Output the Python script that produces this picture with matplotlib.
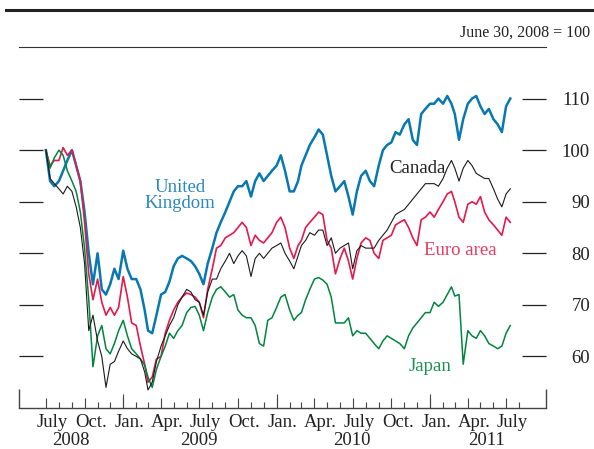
import datetime as dt
import matplotlib
matplotlib.use("Agg")
import matplotlib.pyplot as plt
import matplotlib.dates as mdates
from matplotlib.lines import Line2D

plt.rcParams['font.family'] = ['Liberation Serif', 'DejaVu Serif']

# sample dates: 1st, 11th and 21st of each month, July 2008 to July 11, 2011
months = [dt.date(2008 + (6 + i) // 12, (6 + i) % 12 + 1, 1) for i in range(37)]
dates = [m.replace(day=d) for m in months for d in (1, 11, 21)][:-1]

# index values, June 30, 2008 = 100
uk = [
    100, 94, 93,  94, 96, 98,  100, 97, 94,
    88, 80, 74,  80, 73, 72,  74, 77, 75,
    80.5, 77, 75,  75, 73, 69,  65, 64.5, 68,
    72, 72.5, 74.5,  77.5, 79, 79.5,  79, 78.5, 77.5,
    76, 74, 78,  81, 84, 86,  88, 90, 92,
    93, 93, 94,  91, 94, 95.5,  94, 95, 96,
    97, 99, 96,  92, 92, 94,  97, 99, 101,
    102.5, 104, 103,  99, 95, 92,  93, 94, 91,
    87.5, 92, 95,  96, 94, 93,  97, 100, 101,
    101.5, 103.5, 103,  105, 106, 102,  101, 107, 108,
    109, 109, 110,  109, 110.5, 109,  107, 102, 106,
    109, 110, 110.5,  108.5, 107, 108,  106, 105, 103.5,
    108.5, 110,
]
euro = [
    100, 97, 98,  98, 100.5, 99,  100, 97, 94,
    86, 76, 71,  75, 70.5, 68,  69.5, 68, 69.5,
    75.5, 71.5, 66.5,  66, 62, 58.5,  55, 56, 59.5,
    60, 64.5, 67,  69, 70.5, 71.5,  72.3, 72, 71.5,
    70.5, 67.5, 73,  77, 81, 81.5,  83, 83.5, 84,
    85, 86, 85,  81.5, 83.5, 82.5,  82, 83, 84,
    86, 87, 85,  81, 79, 81.5,  82.5, 85, 86,
    87, 88, 87.5,  82.5, 81, 76,  79, 81, 78.5,
    75, 79, 82,  83, 82.5, 80,  79, 82.5, 83,
    83.5, 85.5, 86,  86.5, 85, 83,  81.5, 86.5, 87,
    88, 87, 88.5,  90, 91.5, 92,  90, 87, 86,
    89.5, 90, 89.5,  91, 88, 86.5,  85.5, 84.5, 83.5,
    87, 86,
]
japan = [
    100, 96.5, 98.5,  100, 99, 96,  94, 92, 88,
    81, 71, 58,  64, 66, 61.5,  60.5, 62.5, 65,
    67, 64, 61.5,  60.5, 59.5, 58.3,  56, 54, 57.5,
    60, 62, 64.5,  63.5, 65, 66,  68.5, 69.5, 69.7,
    68, 65, 68.5,  71.5, 73, 73.5,  72.5, 71.5, 72,
    69, 68, 67.5,  67.5, 66, 62.5,  62, 67, 67.5,
    69.5, 71.5, 72,  69, 67, 68,  68.5, 71, 73,
    75, 75.3, 74.8,  74, 71.5, 66.5,  66.5, 66.5, 67.5,
    64, 65, 64.5,  64.5, 63.5, 62.5,  61.5, 63, 64,
    63.5, 63, 62.5,  61.5, 64, 65.5,  66.5, 67.5, 68.5,
    68.5, 70.5, 69.7,  70.5, 72, 73.5,  71.7, 72, 58.5,
    65, 64, 63.5,  65, 64, 62.5,  62, 61.5, 62,
    64.5, 66,
]
canada = [
    100, 94.5, 93.5,  92.5, 91.5, 93,  92, 89, 85,
    78, 65, 68,  63, 60, 54,  58.5, 59, 61,
    63, 61.5, 60.5,  60, 59.5, 57,  53.5, 55, 59,
    62, 64, 66,  67.5, 70, 71.5,  73, 72.5, 71,
    70.5, 68, 72.5,  75, 75, 77,  78.5, 80, 78,
    79.5, 80.5, 79.5,  75.5, 79, 80,  79, 80, 81,
    81.5, 82, 80,  78.5, 77, 79.5,  81.5, 82.5, 84,
    83.5, 84.5, 84.5,  81.5, 83, 80,  81, 81.5, 82,
    77, 80.5, 81.5,  81, 81, 81,  82.5, 83.5, 84.5,
    86, 87.5, 88,  88.5, 89.5, 90.5,  91.5, 92.5, 93.5,
    93.5, 93.5, 93,  94.5, 96.5, 98,  96.5, 94, 96.5,
    98, 97, 95.5,  95, 94.5, 94.5,  92.5, 90.5, 89,
    91.5, 92.5,
]

series = [
    (uk, "#0878b2", 1.8),
    (euro, "#e5194c", 1.2),
    (japan, "#00853f", 1.1),
    (canada, "#1a1a1a", 0.8),
]

y_ticks = [60, 70, 80, 90, 100, 110]
quarter_names = ["July", "Oct.", "Jan.", "Apr."]
year_labels = ["2008", "2009", "2010", "2011"]
year_label_dates = [dt.date(2008, 8, 29), dt.date(2009, 6, 29),
                    dt.date(2010, 6, 28), dt.date(2011, 5, 15)]

fig = plt.figure(figsize=(5.94, 4.49), dpi=100)
ax = fig.add_axes([19 / 594, 41 / 449, 527 / 594, 361 / 449])

for values, color, lw in series:
    ax.plot(dates, values, color=color, lw=lw, solid_joinstyle='round')

ax.set_xlim(dt.date(2008, 4, 28), dt.date(2011, 10, 4))
ax.set_ylim(50, 120)

# axis frame
ax.spines['left'].set_visible(False)
ax.spines['right'].set_visible(False)
ax.spines['top'].set_linewidth(0.8)
ax.spines['top'].set_color('#333333')
ax.spines['bottom'].set_linewidth(1.0)
ax.spines['bottom'].set_color('#444444')

# y ticks: inside marks on both sides, labels on the right
ax.set_yticks(y_ticks)
ax.tick_params(axis='y', direction='in', length=17.3, width=0.9, color='#222222',
               left=True, right=True, labelleft=False, labelright=True,
               pad=31.7, labelsize=13.5, labelcolor='#222222')
for t in ax.yaxis.get_major_ticks():
    t.label2.set_horizontalalignment('right')

# x ticks: months, quarters longer, January longest
tick_months = [dt.date(2008 + (6 + i) // 12, (6 + i) % 12 + 1, 1) for i in range(38)]
quarters = [d for d in tick_months if d.month in (1, 4, 7, 10)]
others = [d for d in tick_months if d.month not in (1, 4, 7, 10)]
ax.set_xticks(mdates.date2num(quarters))
ax.set_xticks(mdates.date2num(others), minor=True)
ax.tick_params(axis='x', which='major', direction='in', length=7, width=0.8,
               color='#444444', labelbottom=False)
ax.tick_params(axis='x', which='minor', direction='in', length=4, width=0.8,
               color='#444444')
trans = ax.get_xaxis_transform()
jans = [d for d in tick_months if d.month == 1]
ax.vlines(mdates.date2num(jans), 0, 14 / 361, transform=trans, color='#444444', lw=0.8)
ax.vlines(ax.get_xlim(), 0, 19 / 361, transform=trans, color='#444444', lw=1.0,
          clip_on=False)

for i, q in enumerate(quarters[:13]):
    ax.text(mdates.date2num(q.replace(day=16)), -19 / 361, quarter_names[i % 4],
            transform=trans, ha='center', va='baseline', fontsize=13.5,
            color='#222222')
for lab, d in zip(year_labels, year_label_dates):
    ax.text(mdates.date2num(d), -37 / 361, lab, transform=trans, ha='center',
            va='baseline', fontsize=13.5, color='#222222')

# series labels
fig.text(180 / 594, 1 - 192 / 449, "United", ha='center', va='baseline',
         fontsize=13.5, color='#2a88c2')
fig.text(180 / 594, 1 - 208 / 449, "Kingdom", ha='center', va='baseline',
         fontsize=13.5, color='#2a88c2')
fig.text(417 / 594, 1 - 173 / 449, "Canada", ha='center', va='baseline',
         fontsize=13.5, color='#222222')
fig.text(460 / 594, 1 - 255 / 449, "Euro area", ha='center', va='baseline',
         fontsize=13.5, color='#e83a62')
fig.text(430 / 594, 1 - 371 / 449, "Japan", ha='center', va='baseline',
         fontsize=13.5, color='#1e9150')

# header
fig.text(590 / 594, 1 - 37 / 449, "June 30, 2008 = 100", ha='right', va='baseline',
         fontsize=11.5, color='#222222')
fig.add_artist(Line2D([6 / 594, 1], [1 - 10 / 449, 1 - 10 / 449], lw=2.2,
                      color='#222222'))

fig.savefig('out.png', dpi=100)
